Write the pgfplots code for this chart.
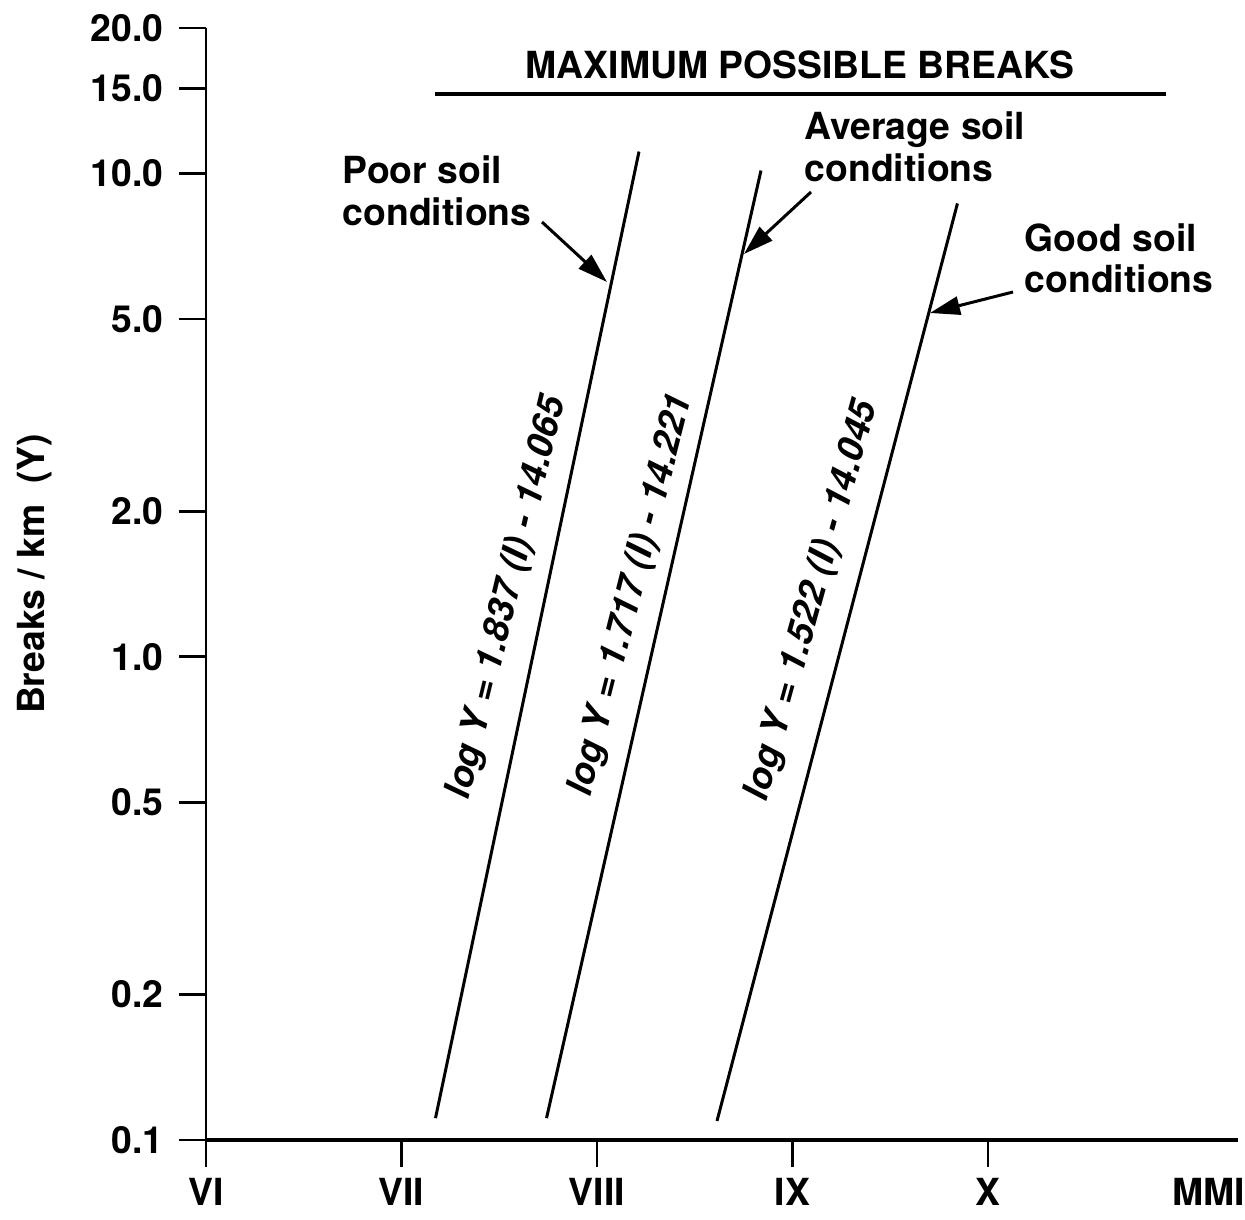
\documentclass[border=0pt]{standalone}
\usepackage{fontspec}
\setmainfont{TeX Gyre Heros}
\usepackage{pgfplots}
\pgfplotsset{compat=1.18}
\usetikzlibrary{arrows.meta}

\begin{document}
\begin{tikzpicture}[font=\fontsize{11.2}{13}\selectfont\bfseries]
\path[use as bounding box, x=0.3pt, y=-0.3pt] (-206,-1140) rectangle (1039,79);
\begin{axis}[
 at={(0,0)}, anchor=south west, scale only axis,
 width=309.6pt, height=333.6pt,
 xmin=6, xmax=11.279, ymode=log, ymin=0.1, ymax=20,
 axis x line*=bottom, axis y line*=left,
 axis line style={-},
 x axis line style={line width=1.2pt}, y axis line style={line width=0.8pt},
 xtick={6,7,8,9,10}, xticklabels={VI,VII,VIII,IX,X},
 extra x ticks={11.13}, extra x tick labels={MMI}, extra x tick style={tick style={draw=none}},
 ytick={0.1,0.2,0.5,1,2,5,10,15,20},
 yticklabels={0.1,0.2,0.5,1.0,2.0,5.0,10.0,15.0,20.0},
 yminorticks=false, xminorticks=false,
 tick align=outside, major tick length=8pt,
 tick style={line width=0.8pt, black},
 ticklabel style={font=\fontsize{11.2}{13}\selectfont\bfseries},
 yticklabel style={xshift=-1.2pt},
 clip=false,
]
\addplot[line width=0.9pt] coordinates {(7.174,0.1110) (8.215,11.10)};
\addplot[line width=0.9pt] coordinates {(7.742,0.1110) (8.839,10.14)};
\addplot[line width=0.9pt] coordinates {(8.614,0.1095) (9.844,8.67)};
\addplot[line width=1.2pt] coordinates {(7.171,14.63) (10.91,14.63)};
\end{axis}
\begin{scope}[x=0.3pt,y=-0.3pt]
\node[anchor=base, inner sep=0] at (800-206,79-1140) {MAXIMUM POSSIBLE BREAKS};
\node[anchor=base west, inner sep=0] at (342-206,184-1140) {Poor soil};
\node[anchor=base west, inner sep=0] at (342-206,226-1140) {conditions};
\node[anchor=base west, inner sep=0] at (804-206,140-1140) {Average soil};
\node[anchor=base west, inner sep=0] at (804-206,182-1140) {conditions};
\node[anchor=base west, inner sep=0] at (1024-206,252-1140) {Good soil};
\node[anchor=base west, inner sep=0] at (1024-206,293-1140) {conditions};
\draw[line width=0.9pt, -{Triangle[length=9pt,width=5.5pt]}] (542-206,222-1140) -- (607-206,282-1140);
\draw[line width=0.9pt, -{Triangle[length=9pt,width=5.5pt]}] (811-206,192-1140) -- (744-206,254-1140);
\draw[line width=0.9pt, -{Triangle[length=9pt,width=5.5pt]}] (1013-206,292-1140) -- (930-206,313-1140);
\node[rotate=76.5, inner sep=0, font=\fontsize{11}{13}\selectfont\bfseries\itshape] at (508-206,598-1140) {log Y = 1.837 (I) - 14.065};
\node[rotate=75.8, inner sep=0, font=\fontsize{11}{13}\selectfont\bfseries\itshape] at (632-206,595-1140) {log Y = 1.717 (I) - 14.221};
\node[rotate=74.5, inner sep=0, font=\fontsize{11}{13}\selectfont\bfseries\itshape] at (813-206,601-1140) {log Y = 1.522 (I) - 14.045};
\node[rotate=90, inner sep=0] at (35-206,574-1140) {Breaks / km\ \ (Y)};
\end{scope}
\end{tikzpicture}
\end{document}
